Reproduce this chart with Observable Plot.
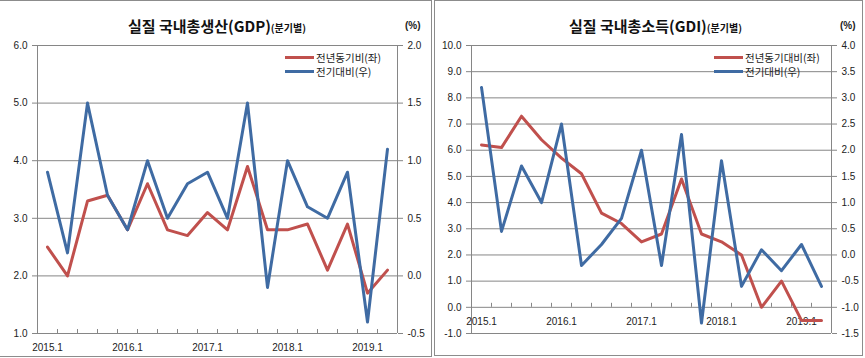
<!DOCTYPE html>
<html><head><meta charset="utf-8">
<script src="https://cdn.jsdelivr.net/npm/d3@7"></script>
<script src="https://cdn.jsdelivr.net/npm/@observablehq/plot@0.6"></script>
<style>
body{margin:0;background:#fff;}
#wrap{position:relative;width:865px;height:358px;overflow:hidden;font-family:"Noto Sans CJK KR","Noto Sans",sans-serif;color:#222;}
.box{position:absolute;box-sizing:border-box;border:1px solid #8c8c8c;}
.chart{position:absolute;top:0;}
.title{position:absolute;top:18px;font-weight:bold;font-size:15px;line-height:15px;white-space:nowrap;color:#111;}
.title span{font-size:10px;}
.pct{position:absolute;top:21px;font:bold 10px/10px "Liberation Sans",Arial,sans-serif;color:#222;}
.legline{position:absolute;height:3px;}
.legtext{position:absolute;font-size:10.5px;line-height:11px;height:11px;white-space:nowrap;color:#222;}
</style></head>
<body><div id="wrap"></div>
<script>
const quarters = ["2015.1","2015.2","2015.3","2015.4","2016.1","2016.2","2016.3","2016.4","2017.1","2017.2","2017.3","2017.4","2018.1","2018.2","2018.3","2018.4","2019.1","2019.2"];
const xLabelQuarters = ["2015.1","2016.1","2017.1","2018.1","2019.1"];
// GDP
const gdpYoY = [2.5,2.0,3.3,3.4,2.8,3.6,2.8,2.7,3.1,2.8,3.9,2.8,2.8,2.9,2.1,2.9,1.7,2.1];
const gdpQoQ = [0.9,0.2,1.5,0.7,0.4,1.0,0.5,0.8,0.9,0.5,1.5,-0.1,1.0,0.6,0.5,0.9,-0.4,1.1];
const gdpLeftTicks = [1,2,3,4,5,6];
// GDI
const gdiYoY = [6.2,6.1,7.3,6.4,5.7,5.1,3.6,3.2,2.5,2.8,4.9,2.8,2.5,2.0,0.0,1.0,-0.5,-0.5];
const gdiQoQ = [3.2,0.45,1.7,1.0,2.5,-0.2,0.2,0.7,2.0,-0.2,2.3,-1.3,1.8,-0.6,0.1,-0.3,0.2,-0.6];
const gdiLeftTicks = [-1,0,1,2,3,4,5,6,7,8,9,10];

const RED = "#c0504d", BLUE = "#3f6ba3", GRID = "#868686";
const toLeft = v => v * 2 + 2;      // right-axis value -> left-axis units
const toRight = d => (d - 2) / 2;   // left-axis units -> right-axis label

function makePlot({yoy, qoq, leftTicks, baseY, width, marginRight}) {
  const rows = quarters.map((q, i) => ({q, i, yoy: yoy[i], qoq: qoq[i]}));
  const labelRows = rows.filter(r => xLabelQuarters.includes(r.q));
  const bounds = d3.range(quarters.length + 1).map(i => i - 0.5);
  const yMin = d3.min(leftTicks), yMax = d3.max(leftTicks);
  const tickLen = (yMax - yMin) * 4 / 288;
  return Plot.plot({
    width, height: 358, marginTop: 45, marginBottom: 25, marginLeft: 37, marginRight,
    style: {fontFamily: "'Liberation Sans', Arial, sans-serif", fontSize: "10px", color: "#222", background: "transparent"},
    x: {type: "linear", domain: [-0.5, quarters.length - 0.5], axis: null},
    y: {domain: [yMin, yMax], axis: null},
    marks: [
      Plot.gridY({ticks: leftTicks, stroke: GRID, strokeOpacity: 1}),
      Plot.ruleX([-0.5, quarters.length - 0.5], {stroke: GRID}),
      Plot.ruleX(bounds, {x: d => d, y1: () => baseY, y2: () => baseY + tickLen, stroke: GRID}),
      Plot.axisY({anchor: "left", ticks: leftTicks, tickFormat: d => d.toFixed(1), tickSize: 5, tickPadding: 5, stroke: GRID, fill: "#222", label: null}),
      Plot.axisY({anchor: "right", ticks: leftTicks, tickFormat: d => toRight(d).toFixed(1), tickSize: 5, tickPadding: 5, stroke: GRID, fill: "#222", label: null}),
      Plot.text(labelRows, {x: "i", y: () => baseY, text: "q", dy: 14, fill: "#222"}),
      Plot.line(rows, {x: "i", y: "yoy", stroke: RED, strokeWidth: 3}),
      Plot.line(rows, {x: "i", y: d => toLeft(d.qoq), stroke: BLUE, strokeWidth: 3})
    ]
  });
}

const wrap = document.getElementById("wrap");
function add(html) { wrap.insertAdjacentHTML("beforeend", html); }

add('<div class="box" style="left:-1px;top:0;width:433px;height:357px;"></div>');
add('<div class="box" style="left:434px;top:0;width:429px;height:356px;"></div>');

const p1 = makePlot({yoy: gdpYoY, qoq: gdpQoQ, leftTicks: gdpLeftTicks, baseY: 1, width: 432, marginRight: 35});
p1.classList.add("chart"); p1.style.left = "0px"; wrap.appendChild(p1);
const p2 = makePlot({yoy: gdiYoY, qoq: gdiQoQ, leftTicks: gdiLeftTicks, baseY: 0, width: 430, marginRight: 33});
p2.classList.add("chart"); p2.style.left = "434px"; wrap.appendChild(p2);

add('<div class="title" style="left:128px;">실질 국내총생산(GDP)<span>(분기별)</span></div>');
add('<div class="title" style="left:569px;">실질 국내총소득(GDI)<span>(분기별)</span></div>');
add('<div class="pct" style="left:405px;">(%)</div>');
add('<div class="pct" style="left:840px;">(%)</div>');

function legend(x, items) {
  items.forEach(([label, color], k) => {
    const y = 57 + k * 14;
    add(`<div class="legline" style="left:${x}px;width:29px;top:${y - 1.5}px;background:${color};"></div>`);
    add(`<div class="legtext" style="left:${x + 31}px;top:${y - 5.5}px;">${label}</div>`);
  });
}
legend(285, [["전년동기비(좌)", RED], ["전기대비(우)", BLUE]]);
legend(714, [["전년동기대비(좌)", RED], ["전기대비(우)", BLUE]]);
</script></body></html>
